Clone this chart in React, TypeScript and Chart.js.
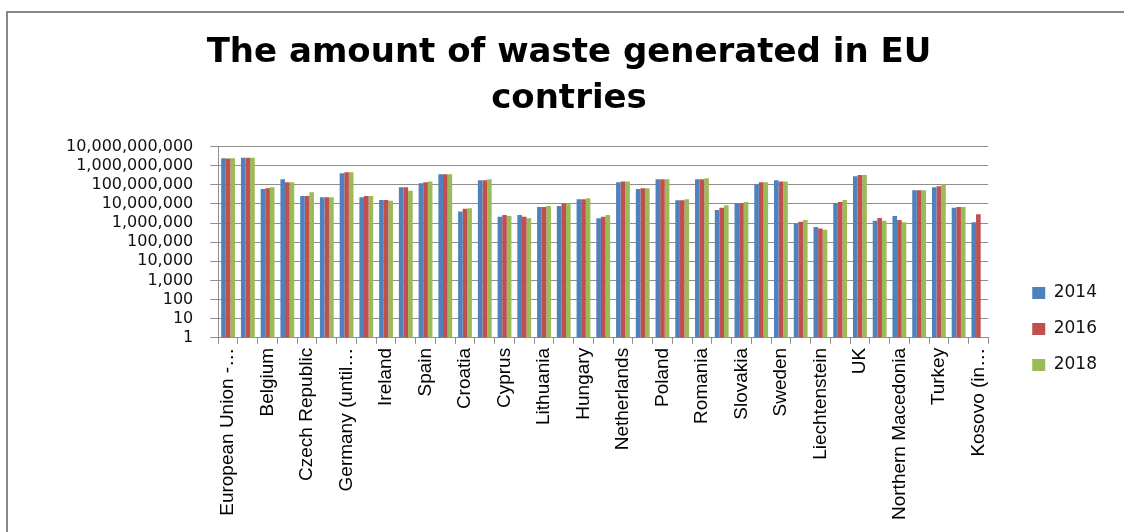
import React, { useEffect, useRef } from 'react';
import { Chart, registerables } from 'chart.js';

Chart.register(...registerables);

const CATEGORIES = [
  'European Union -…',
  'European Union - 28 countries',
  'Belgium',
  'Bulgaria',
  'Czech Republic',
  'Denmark',
  'Germany (until…',
  'Estonia',
  'Ireland',
  'Greece',
  'Spain',
  'France',
  'Croatia',
  'Italy',
  'Cyprus',
  'Latvia',
  'Lithuania',
  'Luxembourg',
  'Hungary',
  'Malta',
  'Netherlands',
  'Austria',
  'Poland',
  'Portugal',
  'Romania',
  'Slovenia',
  'Slovakia',
  'Finland',
  'Sweden',
  'Iceland',
  'Liechtenstein',
  'Norway',
  'UK',
  'Montenegro',
  'Northern Macedonia',
  'Serbia',
  'Turkey',
  'Bosnia and Herzegovina',
  'Kosovo (in…',
];

const SERIES_NAMES = ['2014', '2016', '2018'];

const VALUES_2014 = [
  2.4e9, 2.6e9, 6.0e7, 1.95e8, 2.6e7, 2.2e7, 4.0e8, 2.2e7, 1.6e7, 7.4e7,
  1.2e8, 3.5e8, 4.0e6, 1.73e8, 2.1e6, 2.6e6, 6.9e6, 7.8e6, 1.74e7, 1.8e6,
  1.35e8, 6.0e7, 1.95e8, 1.55e7, 1.95e8, 4.8e6, 1.07e7, 1.07e8, 1.73e8, 9.3e5,
  6.2e5, 1.07e7, 2.8e8, 1.3e6, 2.35e6, 5.2e7, 7.4e7, 6.2e6, 1.1e6,
];

const VALUES_2016 = [
  2.35e9, 2.55e9, 6.6e7, 1.35e8, 2.6e7, 2.2e7, 4.5e8, 2.6e7, 1.6e7, 7.4e7,
  1.35e8, 3.5e8, 5.5e6, 1.73e8, 2.6e6, 2.1e6, 6.9e6, 1.07e7, 1.74e7, 2.1e6,
  1.5e8, 6.6e7, 1.95e8, 1.55e7, 1.95e8, 6.2e6, 1.07e7, 1.35e8, 1.5e8, 1.18e6,
  5.2e5, 1.26e7, 3.2e8, 1.85e6, 1.44e6, 5.2e7, 8.3e7, 6.9e6, 2.9e6,
];

const VALUES_2018 = [
  2.4e9, 2.6e9, 7.4e7, 1.35e8, 4.1e7, 2.2e7, 4.5e8, 2.6e7, 1.45e7, 4.8e7,
  1.5e8, 3.5e8, 5.9e6, 1.95e8, 2.3e6, 1.8e6, 7.8e6, 1.07e7, 1.96e7, 2.6e6,
  1.5e8, 6.6e7, 1.95e8, 1.74e7, 2.2e8, 8.5e6, 1.26e7, 1.35e8, 1.5e8, 1.44e6,
  4.4e5, 1.6e7, 3.2e8, 1.3e6, 1.1e6, 5.2e7, 1.07e8, 6.9e6, null,
];

const Y_TICKS = [1, 10, 100, 1e3, 1e4, 1e5, 1e6, 1e7, 1e8, 1e9, 1e10];

const TITLE_LINES = ['The amount of waste generated in EU', 'contries'];

const COLORS = ['#4F81BD', '#C0504D', '#9BBB59'];

const GRID = '#8e8e8e';

export default function App() {
  const ref = useRef<HTMLCanvasElement | null>(null);

  useEffect(() => {
    if (!ref.current) return;
    const seriesValues = [VALUES_2014, VALUES_2016, VALUES_2018];
    const chart = new Chart(ref.current, {
      type: 'bar',
      data: {
        labels: CATEGORIES,
        datasets: SERIES_NAMES.map((name, i) => ({
          label: name,
          data: seriesValues[i],
          backgroundColor: COLORS[i],
          borderWidth: 0,
          categoryPercentage: 0.7,
          barPercentage: 1.0,
        })),
      },
      options: {
        animation: false,
        responsive: false,
        devicePixelRatio: 1,
        layout: { padding: { left: 23, right: 17, top: 0, bottom: 8 } },
        plugins: {
          title: {
            display: true,
            text: TITLE_LINES,
            color: '#000',
            font: { family: "'DejaVu Sans', Verdana, sans-serif", size: 34, weight: 'bold', lineHeight: 1.36 },
            padding: { top: 17, bottom: 24 },
          },
          legend: {
            position: 'right',
            align: 'center',
            title: { display: true, text: '', padding: { top: 111, bottom: 0 }, font: { size: 10, lineHeight: 1 } },
            labels: {
              boxWidth: 13,
              boxHeight: 12,
              padding: 19,
              color: '#111',
              font: { family: "'DejaVu Sans', Verdana, sans-serif", size: 17 },
            },
          },
          tooltip: { enabled: false },
        },
        scales: {
          x: {
            grid: {
              display: true,
              drawOnChartArea: false,
              drawTicks: true,
              tickLength: 6,
              color: GRID,
              offset: true,
            },
            border: { display: true, color: GRID },
            ticks: {
              autoSkip: false,
              minRotation: 90,
              maxRotation: 90,
              padding: 4,
              color: '#000',
              font: { family: "'Liberation Sans', Arial, sans-serif", size: 19 },
              callback: (_v: any, i: number) => (i % 2 === 0 ? CATEGORIES[i] : ''),
            },
          },
          y: {
            type: 'logarithmic',
            min: 1,
            max: 1e10,
            afterBuildTicks: (scale: any) => {
              scale.ticks = Y_TICKS.map((v) => ({ value: v }));
            },
            afterFit: (s: any) => {
              s.width += 18;
            },
            grid: { color: GRID, tickLength: 8, drawTicks: true },
            border: { display: true, color: GRID },
            ticks: {
              autoSkip: false,
              padding: 17,
              color: '#111',
              font: { family: "'DejaVu Sans', Verdana, sans-serif", size: 16 },
              callback: (v: any) => Number(v).toLocaleString('en-US'),
            },
          },
          gap: {
            type: 'linear',
            position: 'right',
            display: true,
            grid: { display: false, drawTicks: false },
            border: { display: false },
            ticks: { display: false },
            afterFit: (s: any) => {
              s.width = 25;
            },
          },
        },
      } as any,
    });
    return () => chart.destroy();
  }, []);

  return (
    <div
      style={{
        position: 'absolute',
        left: 6,
        top: 11,
        width: 1116,
        height: 519,
        borderTop: '2px solid #888',
        borderLeft: '2px solid #888',
        background: '#fff',
        overflow: 'hidden',
      }}
    >
      <canvas ref={ref} width={1116} height={519} style={{ display: 'block' }} />
    </div>
  );
}
